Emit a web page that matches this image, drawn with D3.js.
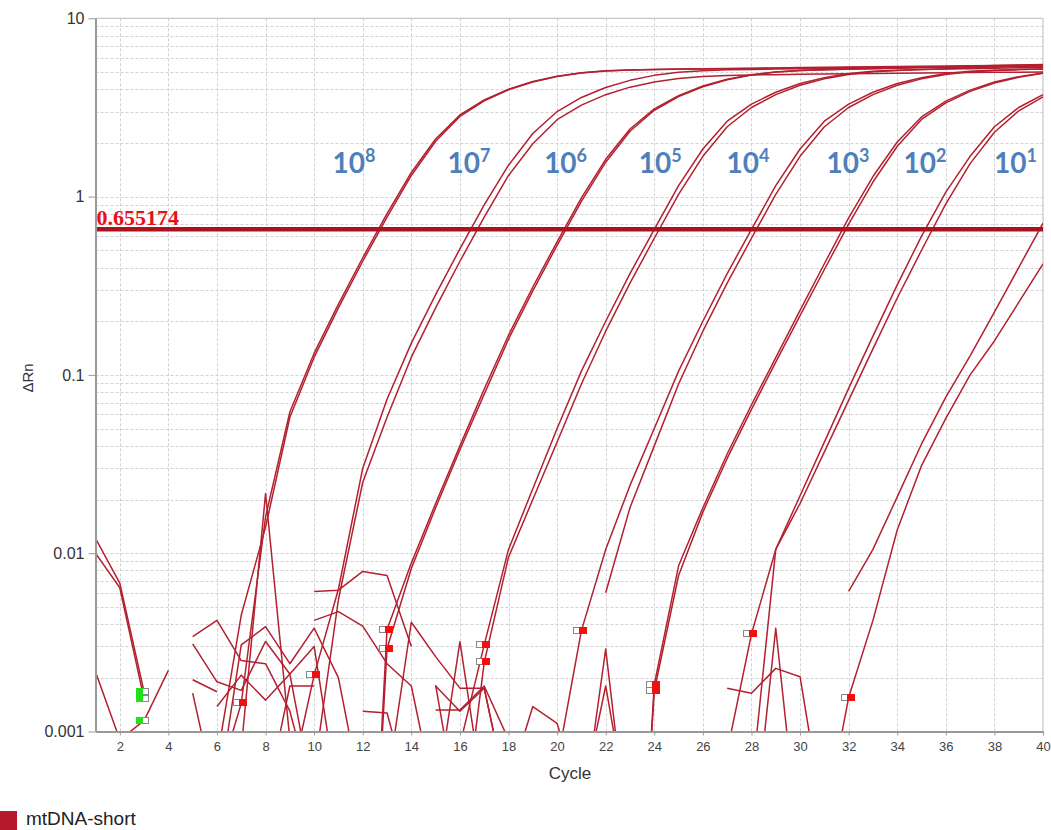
<!DOCTYPE html>
<html>
<head>
<meta charset="utf-8">
<script src="https://cdn.jsdelivr.net/npm/d3@7"></script>
<style>
  body { margin: 0; background: #fff; }
  svg { display: block; font-family: "Liberation Sans", Arial, sans-serif; }
</style>
</head>
<body>
<svg id="chart" width="1051" height="830"></svg>
<script>
// Amplification plot, delta Rn per cycle (null = negative value, not drawn)
const cycles = d3.range(1, 41);
const threshold = 0.655174;

// 10^8 copies
const r8a = [null, null, null, null, null, 0.0005, 0.00144, 0.016, 0.0619, 0.1324,
  0.2495, 0.4539, 0.802, 1.365, 2.105, 2.869, 3.49, 4.006, 4.425, 4.735,
  4.951, 5.072, 5.133, 5.17, 5.19, 5.21, 5.23, 5.25, 5.27, 5.29,
  5.31, 5.33, 5.35, 5.37, 5.38, 5.40, 5.42, 5.44, 5.46, 5.47];
const r8b = [null, null, null, null, null, 0.0007, 0.0045, 0.014, 0.0579, 0.1257,
  0.2375, 0.4339, 0.7667, 1.314, 2.045, 2.818, 3.448, 3.97, 4.397, 4.714,
  4.939, 5.067, 5.13, 5.16, 5.18, 5.2, 5.21, 5.23, 5.24, 5.26,
  5.27, 5.29, 5.3, 5.32, 5.33, 5.35, 5.36, 5.38, 5.39, 5.41];
// 10^7
const r7a = [null, null, null, null, null, null, null, null, 0.0005, 0.00207,
  0.0063, 0.03, 0.073, 0.1507, 0.2821, 0.5093, 0.8974, 1.5, 2.259, 2.999,
  3.597, 4.093, 4.487, 4.786, 4.977, 5.082, 5.14, 5.17, 5.19, 5.21,
  5.22, 5.24, 5.26, 5.28, 5.29, 5.31, 5.33, 5.34, 5.36, 5.38];
const r7b = [null, null, null, null, null, null, null, null, null, 0.0006,
  0.0055, 0.025, 0.0579, 0.1257, 0.2375, 0.4339, 0.7667, 1.314, 1.98, 2.7,
  3.26, 3.73, 4.11, 4.39, 4.59, 4.71, 4.77, 4.81, 4.83, 4.85,
  4.87, 4.89, 4.9, 4.92, 4.93, 4.95, 4.96, 4.98, 4.99, 5.0];
// 10^6
const r6a = [null, null, null, null, null, null, null, null, null, null,
  null, 0.00001, 0.00373, 0.0088, 0.019, 0.040, 0.0834, 0.167, 0.3112, 0.558,
  0.9826, 1.619, 2.395, 3.105, 3.686, 4.172, 4.548, 4.826, 5.005, 5.098,
  5.152, 5.19, 5.23, 5.27, 5.31, 5.35, 5.39, 5.43, 5.47, 5.5];
const r6b = [null, null, null, null, null, null, null, null, null, null,
  null, 0.00001, 0.00292, 0.0082, 0.018, 0.038, 0.078, 0.1585, 0.2963, 0.533,
  0.9393, 1.559, 2.327, 3.05, 3.641, 4.135, 4.52, 4.805, 4.992, 5.092,
  5.148, 5.18, 5.22, 5.25, 5.29, 5.32, 5.35, 5.38, 5.41, 5.44];
// 10^5
const r5a = [null, null, null, null, null, null, null, 0.0004, 0.0018, 0.0018,
  null, null, null, null, null, 0.00084, 0.00306, 0.0105, 0.023, 0.05,
  0.105, 0.2, 0.3698, 0.6546, 1.151, 1.849, 2.649, 3.304, 3.846, 4.305,
  4.645, 4.898, 5.047, 5.117, 5.164, 5.22, 5.28, 5.34, 5.4, 5.45];
const r5b = [null, null, null, null, null, null, null, null, null, null,
  null, 0.0013, 0.00127, 0.0004, null, 0.0002, 0.00244, 0.0095, 0.02, 0.042,
  0.0889, 0.1758, 0.327, 0.5841, 1.028, 1.682, 2.465, 3.161, 3.731, 4.21,
  4.575, 4.846, 5.016, 5.104, 5.155, 5.19, 5.22, 5.25, 5.28, 5.31];
// 10^4
const r4a = [null, null, null, null, null, 0.0004, 0.00306, 0.00387, 0.0024, 0.0038,
  0.002, 0.0004, null, null, 0.0018, 0.0013, 0.00175, 0.0004, null, 0.00066,
  0.00368, 0.0105, 0.024, 0.05, 0.105, 0.2, 0.3698, 0.6546, 1.151, 1.849,
  2.649, 3.304, 3.846, 4.305, 4.645, 4.898, 5.047, 5.117, 5.164, 5.2];
const r4b = [null, null, null, null, null, 0.00138, 0.00207, 0.0015, 0.0021, 0.003,
  0.0004, null, null, null, null, null, null, null, null, null,
  null, 0.006, 0.018, 0.04, 0.0889, 0.1758, 0.327, 0.5841, 1.028, 1.682,
  2.465, 3.161, 3.731, 4.21, 4.575, 4.846, 5.016, 5.104, 5.155, 5.19];
// 10^3
const r3a = [null, null, null, null, 0.00164, 0.0004, null, null, null, 0.0061,
  0.0062, 0.0079, 0.0075, 0.003, null, null, null, null, null, null,
  null, null, 0.00001, 0.00183, 0.0085, 0.018, 0.036, 0.068, 0.125, 0.23,
  0.42, 0.76, 1.296, 2.023, 2.799, 3.432, 3.957, 4.388, 4.708, 4.935];
const r3b = [null, null, null, null, 0.00195, 0.00167, null, null, null, 0.0042,
  0.0047, 0.0039, 0.0024, 0.0018, 0.0004, null, null, null, null, null,
  null, null, 0.00001, 0.00169, 0.0075, 0.017, 0.034, 0.064, 0.118, 0.215,
  0.39, 0.70, 1.207, 1.917, 2.707, 3.355, 3.89, 4.338, 4.67, 4.913];
// 10^2
const r2a = [0.00216, 0.0009, 0.00115, 0.0022, null, null, null, null, null, null,
  null, null, null, null, 0.00132, 0.00132, 0.0018, 0.0009, null, null,
  null, null, null, null, null, null, 0.00077, 0.00352, 0.0105, 0.021,
  0.042, 0.084, 0.165, 0.32, 0.60, 1.06, 1.682, 2.465, 3.161, 3.731];
const r2b = [null, null, null, null, 0.0031, 0.0019, 0.0017, 0.0032, 0.0021, 0.0004,
  null, null, null, null, 0.0004, 0.00319, 0.0004, null, null, null,
  0.0004, 0.0018, 0.0003, null, null, null, null, 0.0005, 0.0105, 0.019,
  0.037, 0.072, 0.14, 0.27, 0.5, 0.91, 1.531, 2.296, 3.024, 3.622];
// 10^1
const r1a = [0.0121, 0.0068, 0.00167, null, null, null, 0.0008, 0.0216, 0.0009, null,
  null, null, 0.0005, 0.0041, 0.00263, 0.00175, 0.00175, 0.0004, null, null,
  0.0003, 0.0029, 0.0002, null, null, null, null, 0.0002, 0.00379, 0.0002,
  null, 0.0061, 0.0105, 0.0207, 0.041, 0.075, 0.128, 0.225, 0.4, 0.71];
const r1b = [0.0100, 0.0064, 0.00152, null, 0.0034, 0.0042, 0.0025, 0.0024, 0.0013, 0.0004,
  null, null, null, null, 0.00182, 0.0003, null, 0.0005, 0.00138, 0.00111,
  0.0004, null, null, null, null, null, 0.00175, 0.00164, 0.00226, 0.00203,
  0.0003, 0.00155, 0.0042, 0.0135, 0.031, 0.057, 0.10, 0.155, 0.255, 0.42];

const wells = [r8a, r8b, r7a, r7b, r6a, r6b, r5a, r5b, r4a, r4b, r3a, r3b, r2a, r2b, r1a, r1b];
const baselineStart = 3;
const baselineEnd = [7, 6, 10, 10, 13, 13, 17, 17, 21, 21, 24, 24, 28, 28, 31, 32];

// dilution annotations
const dilutionExp = ['8', '7', '6', '5', '4', '3', '2', '1'];
const dilutionCycle = [11.64, 16.37, 20.35, 24.24, 27.86, 31.97, 35.14, 38.87];

const yTicks = [0.001, 0.01, 0.1, 1, 10];
const yTickLabels = ['0.001', '0.01', '0.1', '1', '10'];
const xTicks = d3.range(2, 41, 2);

const svg = d3.select('#chart');
const plotLeft = 95.5, plotRight = 1043, plotTop = 18.3, plotBottom = 731.5;

const x = d3.scaleLinear().domain([1, 40]).range([plotLeft, plotRight]);
const y = d3.scaleLog().domain([0.001, 10]).range([plotBottom, plotTop]);

// grid
const minor = [];
[-3, -2, -1, 0].forEach(k => { for (let m = 2; m <= 9; m++) minor.push(m * Math.pow(10, k)); });
const grid = svg.append('g').attr('stroke', '#d2d2d2').attr('stroke-dasharray', '3,2').attr('stroke-width', 1);
grid.selectAll('.hg').data(minor.concat(yTicks.slice(1, 4))).enter().append('line')
  .attr('x1', plotLeft).attr('x2', plotRight)
  .attr('y1', d => Math.round(y(d)) + 0.5).attr('y2', d => Math.round(y(d)) + 0.5);
grid.selectAll('.vg').data(xTicks.slice(0, -1)).enter().append('line')
  .attr('y1', plotTop).attr('y2', plotBottom)
  .attr('x1', d => Math.round(x(d)) + 0.5).attr('x2', d => Math.round(x(d)) + 0.5);

// frame top / right
svg.append('line').attr('x1', plotLeft).attr('x2', plotRight).attr('y1', plotTop).attr('y2', plotTop)
  .attr('stroke', '#bbb');
svg.append('line').attr('x1', plotRight).attr('x2', plotRight).attr('y1', plotTop).attr('y2', plotBottom)
  .attr('stroke', '#bbb');

// curves
svg.append('clipPath').attr('id', 'plot').append('rect')
  .attr('x', plotLeft).attr('y', plotTop).attr('width', plotRight - plotLeft).attr('height', plotBottom - plotTop);

const line = d3.line()
  .defined(d => d.v !== null)
  .x(d => x(d.c))
  .y(d => y(d.v));

svg.append('g').attr('clip-path', 'url(#plot)')
  .selectAll('path').data(wells).enter().append('path')
  .attr('d', w => line(w.map((v, i) => ({ c: cycles[i], v: v }))))
  .attr('fill', 'none')
  .attr('stroke', '#b3202f')
  .attr('stroke-width', 1.5)
  .attr('stroke-linejoin', 'round');

// threshold
svg.append('line').attr('x1', plotLeft).attr('x2', plotRight)
  .attr('y1', y(threshold)).attr('y2', y(threshold))
  .attr('stroke', '#aa1220').attr('stroke-width', 4.5);
svg.append('text').attr('x', plotLeft + 1).attr('y', y(threshold) - 4.5)
  .attr('font-family', '"Liberation Serif", "Times New Roman", serif')
  .attr('font-weight', 'bold').attr('font-size', 22).attr('fill', '#e8101a')
  .text(String(threshold));

// baseline markers
const inRange = v => v !== null && v >= 0.001 && v <= 10;
const markers = svg.append('g');
wells.forEach((w, i) => {
  const s = w[baselineStart - 1];
  if (inRange(s)) {
    const cx = Math.round(x(baselineStart)), cy = Math.round(y(s));
    markers.append('rect').attr('x', cx - 1.5).attr('y', cy - 3.5).attr('width', 6).attr('height', 6)
      .attr('fill', '#fff').attr('stroke', '#888');
    markers.append('rect').attr('x', cx - 8).attr('y', cy - 4).attr('width', 7).attr('height', 7)
      .attr('fill', '#22e01a');
  }
  const e = w[baselineEnd[i] - 1];
  if (inRange(e)) {
    const cx = Math.round(x(baselineEnd[i])), cy = Math.round(y(e));
    markers.append('rect').attr('x', cx - 7.5).attr('y', cy - 3.5).attr('width', 6).attr('height', 6)
      .attr('fill', '#fff').attr('stroke', '#888');
    markers.append('rect').attr('x', cx - 2).attr('y', cy - 4).attr('width', 8).attr('height', 7)
      .attr('fill', '#f01010');
  }
});

// axes
const yAxis = svg.append('g').attr('transform', `translate(${plotLeft},0)`)
  .call(d3.axisLeft(y).tickValues(yTicks).tickFormat((d, i) => yTickLabels[i])
    .tickSize(7).tickSizeOuter(0).tickPadding(4));
yAxis.select('.domain').attr('stroke', '#999').attr('stroke-width', 2);
yAxis.selectAll('.tick line').attr('stroke', '#999');
yAxis.selectAll('text').attr('font-size', 16).attr('fill', '#333')
  .attr('font-family', '"Liberation Sans", Arial, sans-serif');

const xAxis = svg.append('g').attr('transform', `translate(0,${plotBottom})`)
  .call(d3.axisBottom(x).tickValues(xTicks).tickSize(4).tickSizeOuter(0).tickPadding(6));
xAxis.select('.domain').attr('stroke', '#999').attr('stroke-width', 2);
xAxis.selectAll('.tick line').attr('stroke', '#999');
xAxis.selectAll('text').attr('font-size', 13).attr('fill', '#444')
  .attr('font-family', '"Liberation Sans", Arial, sans-serif');

svg.append('text').attr('x', 570).attr('y', 779).attr('text-anchor', 'middle')
  .attr('font-size', 17).attr('fill', '#333').text('Cycle');
svg.append('text').attr('transform', 'translate(33,378) rotate(-90)').attr('text-anchor', 'middle')
  .attr('font-size', 15).attr('fill', '#333').text('ΔRn');

// dilution labels
const labels = svg.append('g')
  .attr('font-family', 'Lato, "Open Sans", sans-serif')
  .attr('font-weight', 'bold').attr('fill', '#4f7fbb');
dilutionExp.forEach((exp, i) => {
  const t = labels.append('text').attr('x', x(dilutionCycle[i])).attr('y', y(1.36))
    .attr('text-anchor', 'middle').attr('font-size', 28);
  t.append('tspan').text('10');
  t.append('tspan').attr('dy', -11).attr('font-size', 18).text(exp);
});

// legend
svg.append('rect').attr('x', 0).attr('y', 811).attr('width', 17).attr('height', 19).attr('fill', '#b5192b');
svg.append('text').attr('x', 26).attr('y', 825).attr('font-size', 19).attr('fill', '#222').text('mtDNA-short');
</script>
</body>
</html>
